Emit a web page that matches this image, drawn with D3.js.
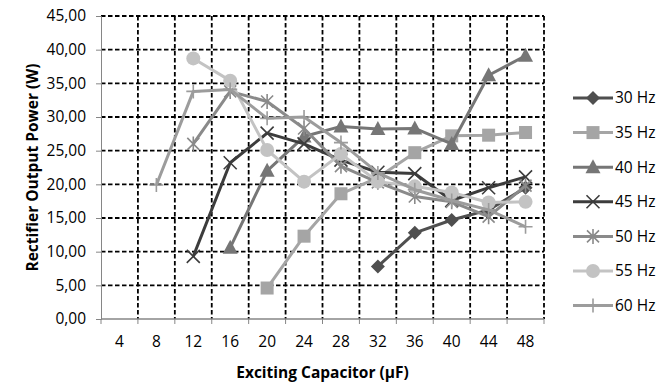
<!DOCTYPE html>
<html>
<head>
<meta charset="utf-8">
<script src="https://cdn.jsdelivr.net/npm/d3@7"></script>
<style>
  body { margin: 0; background: #fff; }
  svg text { font-family: "Open Sans", sans-serif; fill: #000; }
</style>
</head>
<body>
<div id="chart"></div>
<script>
// Chart data
var capacitors = [4, 8, 12, 16, 20, 24, 28, 32, 36, 40, 44, 48];
var yTicks = [0, 5, 10, 15, 20, 25, 30, 35, 40, 45];

var hz30 = [null, null, null, null, null, null, null, 7.8, 12.8, 14.7, 16.2, 19.5];
var hz35 = [null, null, null, null, 4.6, 12.3, 18.6, 21.0, 24.7, 27.2, 27.3, 27.7];
var hz40 = [null, null, null, 10.6, 22.0, 27.1, 28.6, 28.2, 28.3, 26.0, 36.2, 39.1];
var hz45 = [null, null, 9.3, 23.2, 27.6, 26.0, 23.6, 21.8, 21.6, 17.6, 19.5, 21.1];
var hz50 = [null, null, 26.0, 33.8, 32.3, 28.3, 22.7, 20.3, 18.2, 17.4, 15.2, 19.8];
var hz55 = [null, null, 38.7, 35.4, 25.1, 20.4, 24.5, 20.4, 19.7, 18.8, 17.3, 17.4];
var hz60 = [null, 19.9, 33.8, 34.1, 29.8, 30.0, 26.2, 21.7, 19.2, 17.6, 16.2, 13.7];

var seriesNames = ["30 Hz", "35 Hz", "40 Hz", "45 Hz", "50 Hz", "55 Hz", "60 Hz"];
var seriesValues = [hz30, hz35, hz40, hz45, hz50, hz55, hz60];
var seriesColors = ["#4f4f4f", "#a5a5a5", "#767676", "#3c3c3c", "#8a8a8a", "#c3c3c3", "#9c9c9c"];
var seriesMarkers = ["diamond", "square", "triangle", "cross", "star", "circle", "plus"];

var width = 672, height = 385;
var margin = { top: 16, right: 128, bottom: 66, left: 101 };

var svg = d3.select("#chart").append("svg")
    .attr("width", width)
    .attr("height", height);

var x = d3.scaleBand()
    .domain(capacitors)
    .range([margin.left, width - margin.right])
    .padding(0);

var y = d3.scaleLinear()
    .domain([0, 45])
    .range([height - margin.bottom, margin.top]);

// Dashed grid, horizontal
svg.append("g").selectAll("line")
    .data(yTicks.filter(function (d) { return d > 0; }))
    .enter().append("line")
    .attr("x1", margin.left).attr("x2", width - margin.right)
    .attr("y1", function (d) { return y(d); })
    .attr("y2", function (d) { return y(d); })
    .attr("stroke", "#000")
    .attr("stroke-width", 1.8)
    .attr("stroke-dasharray", "4.5,2.5");

// Dashed grid, vertical (band edges)
svg.append("g").selectAll("line")
    .data(capacitors)
    .enter().append("line")
    .attr("x1", function (d) { return x(d) + x.bandwidth(); })
    .attr("x2", function (d) { return x(d) + x.bandwidth(); })
    .attr("y1", y(45)).attr("y2", y(0))
    .attr("stroke", "#000")
    .attr("stroke-width", 1.8)
    .attr("stroke-dasharray", "4.5,2.5");

// Y axis
var yAxis = svg.append("g")
    .attr("transform", "translate(" + margin.left + ",0)")
    .call(d3.axisLeft(y).tickValues(yTicks).tickSize(5).tickPadding(10)
        .tickFormat(function (d) { return d3.format(".2f")(d).replace(".", ","); }));
yAxis.select(".domain").attr("stroke", "#868686");
yAxis.selectAll(".tick line").attr("stroke", "#868686");
yAxis.selectAll("text").style("font-size", "15.5px");

// X axis
var xAxis = svg.append("g")
    .attr("transform", "translate(0," + y(0) + ")")
    .call(d3.axisBottom(x).tickSize(0).tickPadding(17));
xAxis.select(".domain").remove();
xAxis.selectAll("text").style("font-size", "15.5px");
svg.append("line")
    .attr("x1", margin.left).attr("x2", width - margin.right)
    .attr("y1", y(0)).attr("y2", y(0))
    .attr("stroke", "#868686").attr("stroke-width", 1.4);
svg.append("g").selectAll("line")
    .data([capacitors[0]].concat(capacitors))
    .enter().append("line")
    .attr("x1", function (d, i) { return i === 0 ? x(d) : x(d) + x.bandwidth(); })
    .attr("x2", function (d, i) { return i === 0 ? x(d) : x(d) + x.bandwidth(); })
    .attr("y1", y(0)).attr("y2", y(0) + 5)
    .attr("stroke", "#868686");

// Axis titles
svg.append("text")
    .attr("x", (margin.left + width - margin.right) / 2)
    .attr("y", 378)
    .attr("text-anchor", "middle")
    .style("font-size", "15.5px")
    .style("font-weight", "bold")
    .text("Exciting Capacitor (\u00b5F)");

svg.append("text")
    .attr("transform", "translate(38," + (y(22.5)) + ") rotate(-90)")
    .attr("text-anchor", "middle")
    .style("font-size", "15.5px")
    .style("font-weight", "bold")
    .text("Rectifier Output Power (W)");

// Marker drawing
function drawMarker(g, type, color) {
    if (type === "diamond") {
        g.append("path").attr("d", "M0,-7L7,0L0,7L-7,0Z").attr("fill", color);
    } else if (type === "square") {
        g.append("rect").attr("x", -6.5).attr("y", -6.5).attr("width", 13).attr("height", 13).attr("fill", color);
    } else if (type === "triangle") {
        g.append("path").attr("d", "M0,-8L7.5,6L-7.5,6Z").attr("fill", color);
    } else if (type === "cross") {
        g.append("path").attr("d", "M-6.5,-6.5L6.5,6.5M-6.5,6.5L6.5,-6.5")
            .attr("stroke", color).attr("stroke-width", 1.6).attr("fill", "none");
    } else if (type === "star") {
        g.append("path").attr("d", "M-6,-6L6,6M-6,6L6,-6M0,-7.5L0,7.5")
            .attr("stroke", color).attr("stroke-width", 1.6).attr("fill", "none");
    } else if (type === "circle") {
        g.append("circle").attr("r", 7).attr("fill", color);
    } else if (type === "plus") {
        g.append("path").attr("d", "M0,-7L0,7M-7,0L7,0")
            .attr("stroke", color).attr("stroke-width", 1.6).attr("fill", "none");
    }
}

var line = d3.line()
    .defined(function (d) { return d !== null; })
    .x(function (d, i) { return x(capacitors[i]) + x.bandwidth() / 2; })
    .y(function (d) { return y(d); });

// Series
seriesValues.forEach(function (vals, s) {
    var g = svg.append("g");
    g.append("path")
        .datum(vals)
        .attr("d", line)
        .attr("fill", "none")
        .attr("stroke", seriesColors[s])
        .attr("stroke-width", 3)
        .attr("stroke-linejoin", "round");
    vals.forEach(function (v, i) {
        if (v === null) return;
        var m = g.append("g")
            .attr("transform", "translate(" + (x(capacitors[i]) + x.bandwidth() / 2) + "," + y(v) + ")");
        drawMarker(m, seriesMarkers[s], seriesColors[s]);
    });
});

// Legend
var legend = svg.append("g").attr("transform", "translate(573,98)");
seriesNames.forEach(function (name, s) {
    var item = legend.append("g").attr("transform", "translate(0," + (s * 34.6) + ")");
    item.append("line")
        .attr("x1", 0).attr("x2", 40)
        .attr("stroke", seriesColors[s]).attr("stroke-width", 3);
    var m = item.append("g").attr("transform", "translate(20,0)");
    drawMarker(m, seriesMarkers[s], seriesColors[s]);
    item.append("text")
        .attr("x", 42).attr("y", 0)
        .attr("dy", "0.35em")
        .style("font-size", "15.5px")
        .text(name);
});
</script>
</body>
</html>
